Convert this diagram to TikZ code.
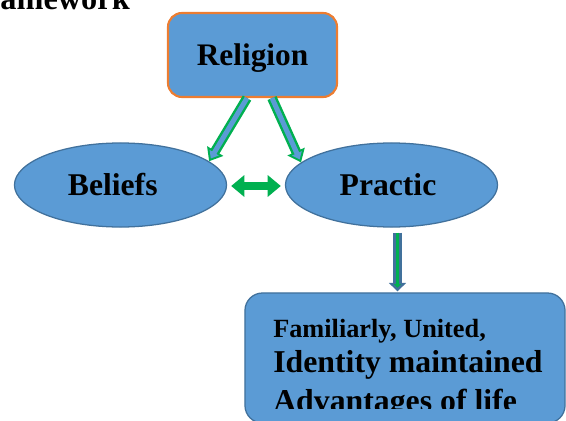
\documentclass[tikz,border=0pt]{standalone}
\usepackage{fontspec}
\setmainfont{Liberation Serif}
\usetikzlibrary{positioning,arrows.meta,shapes.geometric,calc}
\definecolor{boxblue}{HTML}{5B9BD5}
\definecolor{edgeblue}{HTML}{41719C}
\definecolor{edgeorange}{HTML}{ED7D31}
\definecolor{arrowgreen}{HTML}{00B050}

\begin{document}
\begin{tikzpicture}[
  x=0.025cm, y=-0.025cm,
  topbox/.style={draw=edgeorange, line width=1.5pt, fill=boxblue, rounded corners=10pt,
                 minimum width=4.225cm, minimum height=2.1cm, inner sep=0pt, text depth=0pt,
                 font=\fontsize{22.3}{26}\selectfont\bfseries},
  oval/.style={ellipse, draw=edgeblue, line width=0.9pt, fill=boxblue,
               minimum width=5.3cm, minimum height=2.1cm, inner sep=0pt,
               font=\fontsize{22.5}{27}\selectfont\bfseries},
  resultbox/.style={draw=edgeblue, line width=0.9pt, fill=boxblue, rounded corners=12.5pt,
                    minimum width=8cm, minimum height=3.25cm, inner sep=0pt},
  line/.style={anchor=base west, inner sep=0pt},
  legout/.style={draw=arrowgreen, line width=7pt, -{Triangle[length=8.5pt,width=13pt]}},
  legin/.style={draw=boxblue, line width=3.5pt, shorten >=2.3pt, -{Triangle[length=4.8pt,width=7.3pt]}},
  downout/.style={draw=edgeblue, line width=6pt, -{Triangle[length=6pt,width=12pt]}},
  downin/.style={draw=arrowgreen, line width=2.6pt, shorten >=2.6pt, -{Triangle[length=2.6pt,width=5pt]}},
  twoway/.style={draw=arrowgreen, line width=6pt,
                 {Triangle[length=9.4pt,width=15pt]}-{Triangle[length=9.4pt,width=15pt]}}
]
\clip (0,0) rectangle (566,421);

% Heading, cut by the page edge
\node[line, font=\fontsize{23}{27}\selectfont\bfseries] (title) at (-34,9.3) {Framework};

% Main nodes
\node[topbox] (rel) at (252.5,55) {Religion};
\node[oval] (bel) at (120.5,185) {Beliefs\hspace*{11pt}};
\node[oval] (pra) at (391.5,185) {Practic\hspace*{5pt}};
\node[resultbox] (res) at (405,358) {};

% Result text
\begin{scope}
  \clip (240,290) rectangle (570,408);
  \node[line, font=\fontsize{18.7}{22}\selectfont\bfseries] (fam) at (273,337) {Familiarly, United,};
  \node[line, font=\fontsize{22.6}{27}\selectfont\bfseries] (ident) at (273,372) {Identity maintained};
  \node[line, font=\fontsize{22.6}{27}\selectfont\bfseries] (adv) at (273,411) {Advantages of life};
\end{scope}

% Religion to beliefs and practice
\draw[legout] ($(rel.south)+(-5.5,0)$) -- (bel.15);
\draw[legin] ($(rel.south)+(-5.5,0)$) -- (bel.15);
\draw[legout] ($(rel.south)+(19.5,0)$) -- (pra.166);
\draw[legin] ($(rel.south)+(19.5,0)$) -- (pra.166);

% Beliefs and practice
\draw[twoway] ($(bel.east)+(4,1)$) -- ($(pra.west)+(-4,1)$);

% Practice to result
\draw[downout] ($(pra.south)+(6,5)$) -- ($(pra.south |- res.north)+(6,-1)$);
\draw[downin] ($(pra.south)+(6,5)$) -- ($(pra.south |- res.north)+(6,-1)$);

\end{tikzpicture}
\end{document}
